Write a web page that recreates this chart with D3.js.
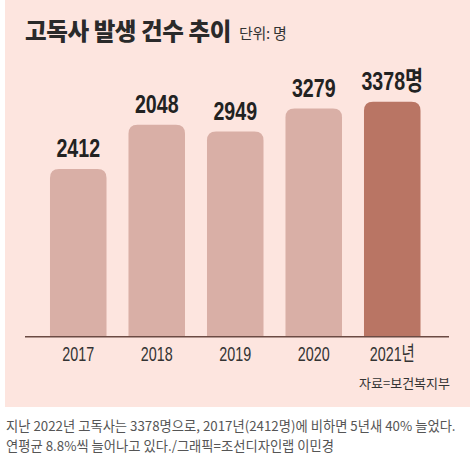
<!DOCTYPE html>
<html><head><meta charset="utf-8">
<script src="https://cdn.jsdelivr.net/npm/d3@7/dist/d3.min.js"></script>
<style>
html,body{margin:0;padding:0;background:#fff;}
svg{display:block;}
</style></head>
<body>
<svg id="c" width="470" height="461"></svg>
<script>
const years = ["2017", "2018", "2019", "2020", "2021"];
const yearLabels = ["2017", "2018", "2019", "2020", "2021년"];
const values = [2412, 3048, 2949, 3279, 3378];
const valueLabels = ["2412", "2048", "2949", "3279", "3378명"];
const title = "고독사 발생 건수 추이";
const unit = "단위: 명";
const source = "자료=보건복지부";
const caption = ["지난 2022년 고독사는 3378명으로, 2017년(2412명)에 비하면 5년새 40% 늘었다.",
                 "연평균 8.8%씩 늘어나고 있다./그래픽=조선디자인랩 이민경"];

const svg = d3.select("#c");
const latin = "'Liberation Sans','Noto Sans CJK KR',sans-serif";
const kr = "'Noto Sans CJK KR','Noto Sans',sans-serif";

svg.append("rect").attr("x", 5).attr("y", 0).attr("width", 465).attr("height", 407).attr("fill", "#fde5df");

svg.append("text").attr("x", 25).attr("y", 40).attr("font-family", kr).attr("font-weight", 900)
  .attr("font-size", 23.5).attr("fill", "#2a2a2a").attr("letter-spacing", -0.4).text(title);
svg.append("text").attr("x", 239).attr("y", 39).attr("font-family", kr).attr("font-size", 15)
  .attr("fill", "#333").attr("letter-spacing", -0.3).text(unit);

const x = d3.scaleBand().domain(years).range([39, 431.5]).paddingInner(0.28).paddingOuter(0.14);
const y = d3.scaleLinear().domain([0, 3378]).range([336.7, 101.7]);
const r = 9;

function barPath(d, i) {
  const x0 = x(years[i]), w = x.bandwidth(), y0 = y(d), yb = y(0);
  return `M${x0},${yb}V${y0 + r}Q${x0},${y0} ${x0 + r},${y0}H${x0 + w - r}Q${x0 + w},${y0} ${x0 + w},${y0 + r}V${yb}Z`;
}

svg.append("g").selectAll("path").data(values).join("path")
  .attr("d", barPath)
  .attr("fill", (d, i) => i === values.length - 1 ? "#b97564" : "#d9afa6");

svg.append("g").selectAll("g").data(values).join("g")
  .attr("transform", (d, i) => `translate(${x(years[i]) + x.bandwidth() / 2},${y(d) - 11.7}) scale(0.74,1)`)
  .append("text")
  .attr("text-anchor", "middle")
  .attr("font-family", latin).attr("font-weight", 700).attr("font-size", 26.5)
  .attr("fill", "#222")
  .text((d, i) => valueLabels[i]);

const xAxis = d3.axisBottom(x).tickSize(0).tickPadding(0).tickFormat((d, i) => yearLabels[i]);
const gx = svg.append("g").attr("transform", `translate(0,${y(0)})`).call(xAxis);
gx.select(".domain").remove();
gx.selectAll(".tick text")
  .attr("y", 0).attr("dy", 0)
  .attr("transform", "translate(0,24) scale(0.70,1)")
  .attr("font-family", latin).attr("font-size", 20.5).attr("fill", "#333");
svg.append("line").attr("x1", 25).attr("x2", 449).attr("y1", y(0)).attr("y2", y(0))
  .attr("stroke", "#6b4a43").attr("stroke-width", 1.5);

svg.append("text").attr("x", 450).attr("y", 388).attr("text-anchor", "end").attr("font-family", kr)
  .attr("font-size", 13).attr("fill", "#333").text(source);

svg.append("g").selectAll("text").data(caption).join("text")
  .attr("x", 6).attr("y", (d, i) => 431 + i * 20)
  .attr("font-family", kr).attr("font-size", 13.3).attr("fill", "#555").attr("letter-spacing", 0)
  .text(d => d);
</script>
</body></html>
